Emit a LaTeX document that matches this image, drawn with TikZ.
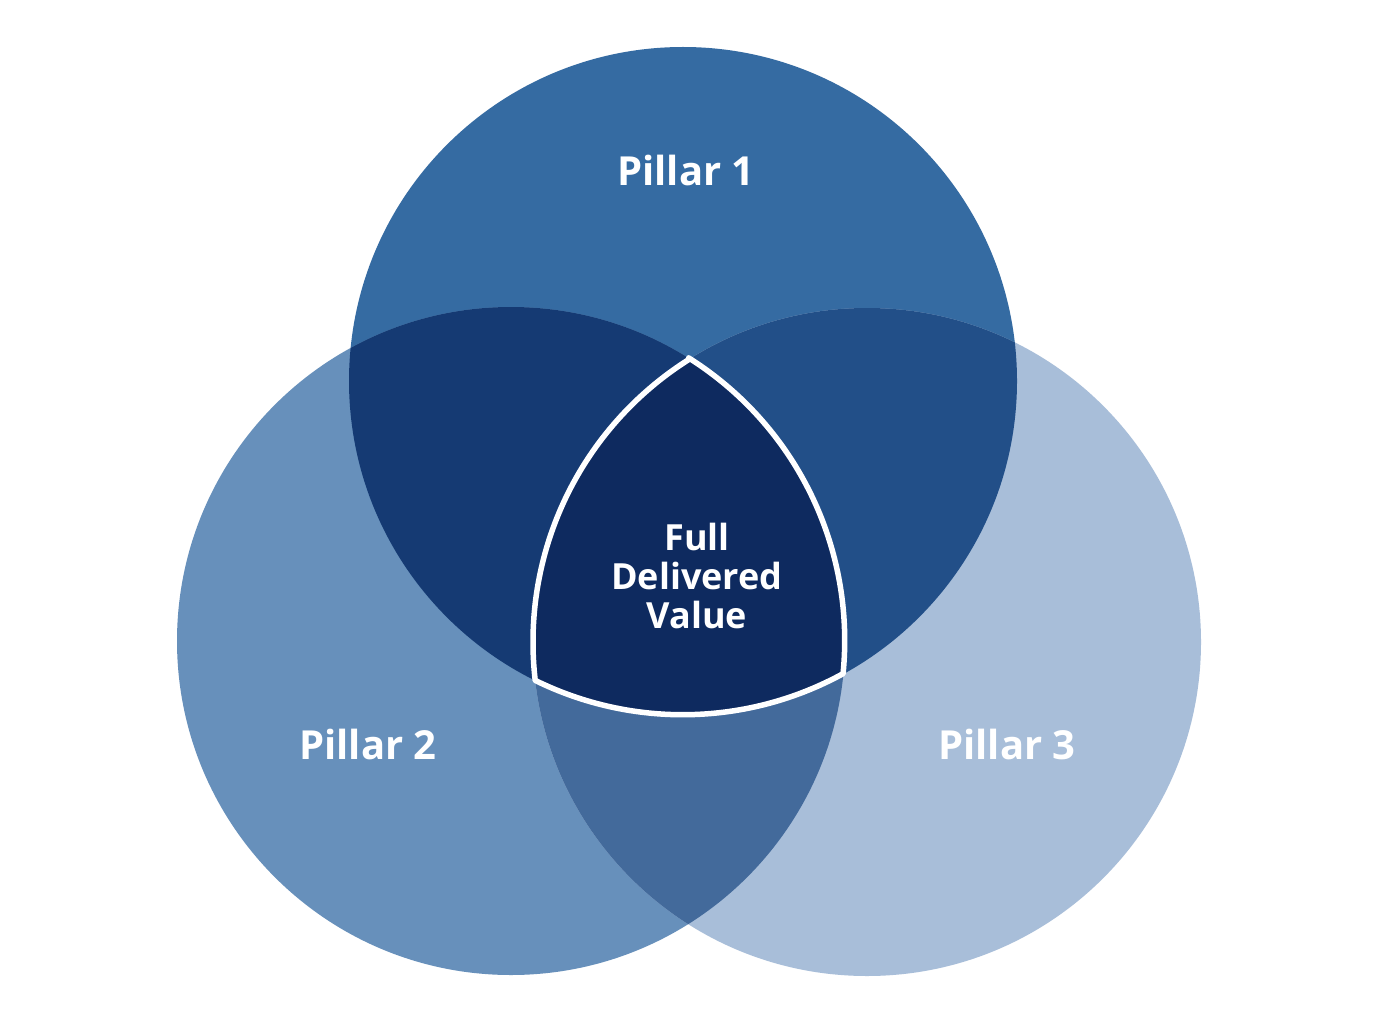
\documentclass[tikz,border=0pt]{standalone}
\usepackage{fontspec}
\setmainfont{Open Sans}
\definecolor{cA}{HTML}{356BA2}
\definecolor{cB}{HTML}{6790BB}
\definecolor{cC}{HTML}{A8BED9}
\definecolor{cAB}{HTML}{153A73}
\definecolor{cAC}{HTML}{224F88}
\definecolor{cBC}{HTML}{436A9B}
\definecolor{cABC}{HTML}{0E2A5F}
\begin{document}
\begin{tikzpicture}[x=1pt,y=-1pt,
  lbl/.style={text=white,font=\fontsize{40}{46}\selectfont\bfseries,inner sep=0pt},
  ctr/.style={text=white,font=\fontsize{36}{39}\selectfont\bfseries,align=center,inner sep=0pt}]
\useasboundingbox[fill=white] (0,0) rectangle (1380,1024);
\def\cA{(683,381) circle[radius=334]}
\def\cB{(511,641) circle[radius=334]}
\def\cC{(867,642) circle[radius=334]}
\fill[cA] \cA;
\fill[cB] \cB;
\fill[cC] \cC;
\begin{scope}\clip \cA; \fill[cAB] \cB; \end{scope}
\begin{scope}\clip \cA; \fill[cAC] \cC; \end{scope}
\begin{scope}\clip \cB; \fill[cBC] \cC; \end{scope}
\coordinate (T) at (689.5,359.1);
\draw[white,line width=5.5pt,line join=round,fill=cABC]
  (T) arc[start angle=-122.1,end angle=-186.6,radius=334]
      arc[start angle=116.2,end angle=61.3,radius=334]
      arc[start angle=5.7,end angle=-57.8,radius=334] -- cycle;
\node[lbl] (p1) at (686,171) {Pillar 1};
\node[lbl] (p2) at (368,744) {Pillar 2};
\node[lbl] (p3) at (1007,744) {Pillar 3};
\node[ctr] (fdv) at (697,576) {Full\\Delivered\\Value};
\end{tikzpicture}
\end{document}
